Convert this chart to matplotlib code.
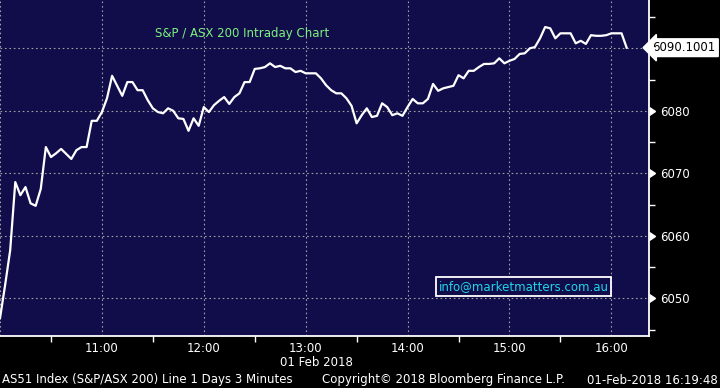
import numpy as np
import pandas as pd
import matplotlib
matplotlib.use("Agg")
import matplotlib.pyplot as plt
import matplotlib.dates as mdates
from matplotlib.ticker import FixedLocator, MultipleLocator

# S&P/ASX 200, 3 minute bars, 01 Feb 2018 from 10:00
values = [
    6046.8, 6052.1, 6057.7, 6068.6, 6066.5, 6067.8, 6065.2, 6064.8, 6067.5, 6074.2,
    6072.6, 6073.2, 6073.9, 6073.1, 6072.3, 6073.7, 6074.2, 6074.2, 6078.4, 6078.4,
    6079.8, 6082.0, 6085.6, 6084.0, 6082.4, 6084.6, 6084.6, 6083.3, 6083.3, 6081.7,
    6080.4, 6079.8, 6079.6, 6080.4, 6080.0, 6078.8, 6078.7, 6076.8, 6078.8, 6077.6,
    6080.6, 6079.8, 6080.9, 6081.6, 6082.2, 6081.1, 6082.2, 6082.8, 6084.6, 6084.6,
    6086.7, 6086.8, 6087.0, 6087.6, 6087.0, 6087.2, 6086.8, 6086.8, 6086.2, 6086.4,
    6086.0, 6086.0, 6086.0, 6085.2, 6084.1, 6083.3, 6082.8, 6082.8, 6082.0, 6080.8,
    6078.0, 6079.3, 6080.4, 6079.0, 6079.2, 6081.2, 6080.6, 6079.3, 6079.6, 6079.2,
    6080.6, 6081.9, 6081.2, 6081.2, 6081.9, 6084.3, 6083.2, 6083.6, 6083.8, 6084.0,
    6085.7, 6085.2, 6086.4, 6086.4, 6087.0, 6087.5, 6087.5, 6087.6, 6088.4, 6087.6,
    6088.0, 6088.3, 6089.1, 6089.2, 6090.0, 6090.2, 6091.6, 6093.4, 6093.2, 6091.6,
    6092.4, 6092.4, 6092.4, 6090.8, 6091.2, 6090.7, 6092.1, 6092.0, 6092.0, 6092.1,
    6092.4, 6092.4, 6092.4, 6090.1001,
]
times = pd.date_range("2018-02-01 10:00", periods=len(values), freq="3min")
last_value = values[-1]

y_ticks = [6050, 6060, 6070, 6080, 6090]
y_labels = ["6050", "6060", "6070", "6080", ""]   # 6090 sits under the last-value tag
hours = pd.date_range("2018-02-01 10:00", "2018-02-01 16:00", freq="60min")
half_hours = pd.date_range("2018-02-01 10:30", "2018-02-01 16:00", freq="60min")

title = "S&P / ASX 200 Intraday Chart"
email = "info@marketmatters.com.au"
footer_left = "AS51 Index (S&P/ASX 200) Line 1 Days 3 Minutes"
footer_mid = "Copyright\u00a9 2018 Bloomberg Finance L.P."
footer_right = "01-Feb-2018 16:19:48"
date_label = "01 Feb 2018"

navy = "#100d4a"
grid_col = "#a0a0a0"
fs = 8.5

fig = plt.figure(figsize=(7.2, 3.88), dpi=100, facecolor="black")
ax = fig.add_axes([0.0, 0.134, 0.901, 0.866], facecolor=navy)

ax.plot(mdates.date2num(times), values, color="white", lw=1.6, zorder=3)

x0 = mdates.date2num(pd.Timestamp("2018-02-01 10:00"))
x1 = mdates.date2num(pd.Timestamp("2018-02-01 16:22"))
ax.set_xlim(x0, x1)
ax.set_ylim(6043.97, 6097.73)

# grid
for h in mdates.date2num(hours):
    ax.axvline(h, color=grid_col, lw=0.8, ls=(0, (1.5, 2.5)), zorder=1)
for yv in y_ticks:
    ax.axhline(yv, color=grid_col, lw=0.8, ls=(0, (1.5, 2.5)), zorder=1)

# spines
for s in ["top", "left"]:
    ax.spines[s].set_visible(False)
for s in ["right", "bottom"]:
    ax.spines[s].set_color("white")
    ax.spines[s].set_linewidth(1.3)

# x axis
ax.xaxis.set_major_locator(FixedLocator(mdates.date2num(hours)))
ax.xaxis.set_minor_locator(FixedLocator(mdates.date2num(half_hours)))
ax.set_xticklabels([""] + [h.strftime("%H:%M") for h in hours[1:]])
ax.tick_params(axis="x", which="major", length=0, pad=4, labelcolor="white", labelsize=fs)
ax.tick_params(axis="x", which="minor", length=4, width=1, color="white", direction="out")

# y axis on the right
ax.yaxis.tick_right()
ax.yaxis.set_major_locator(FixedLocator(y_ticks))
ax.set_yticklabels(y_labels)
ax.yaxis.set_minor_locator(MultipleLocator(5))
ax.tick_params(axis="y", which="major", length=0, pad=8, labelcolor="white", labelsize=fs)
ax.tick_params(axis="y", which="minor", length=4, width=1, color="white", direction="out")
ax.plot([1.0] * len(y_ticks), y_ticks, ls="none", marker=9, ms=6, color="white",
        transform=ax.get_yaxis_transform(), clip_on=False, zorder=5)

# last value tag
ax.text(1.006, last_value, "%.4f" % last_value, transform=ax.get_yaxis_transform(),
        ha="left", va="center", fontsize=fs, color="black",
        bbox=dict(boxstyle="larrow,pad=0.2", fc="white", ec="white"), clip_on=False)

# labels inside the plot
ax.text(0.373, 0.899, title, transform=ax.transAxes, ha="center", va="center",
        color="#7ef07e", fontsize=fs)
ax.text(0.807, 0.146, email, transform=ax.transAxes, ha="center", va="center",
        color="#1fd6ea", fontsize=fs,
        bbox=dict(boxstyle="square,pad=0.25", fc=navy, ec="white", lw=1.3))

# footer
fig.text(316 / 720, 1 - 362 / 388, date_label, ha="center", va="center", color="white", fontsize=fs)
fig.text(2 / 720, 1 - 380 / 388, footer_left, ha="left", va="center", color="white", fontsize=fs)
fig.text(322 / 720, 1 - 380 / 388, footer_mid, ha="left", va="center", color="white", fontsize=fs)
fig.text(718 / 720, 1 - 380 / 388, footer_right, ha="right", va="center", color="white", fontsize=fs)

fig.savefig("out.png", dpi=100, facecolor="black")
